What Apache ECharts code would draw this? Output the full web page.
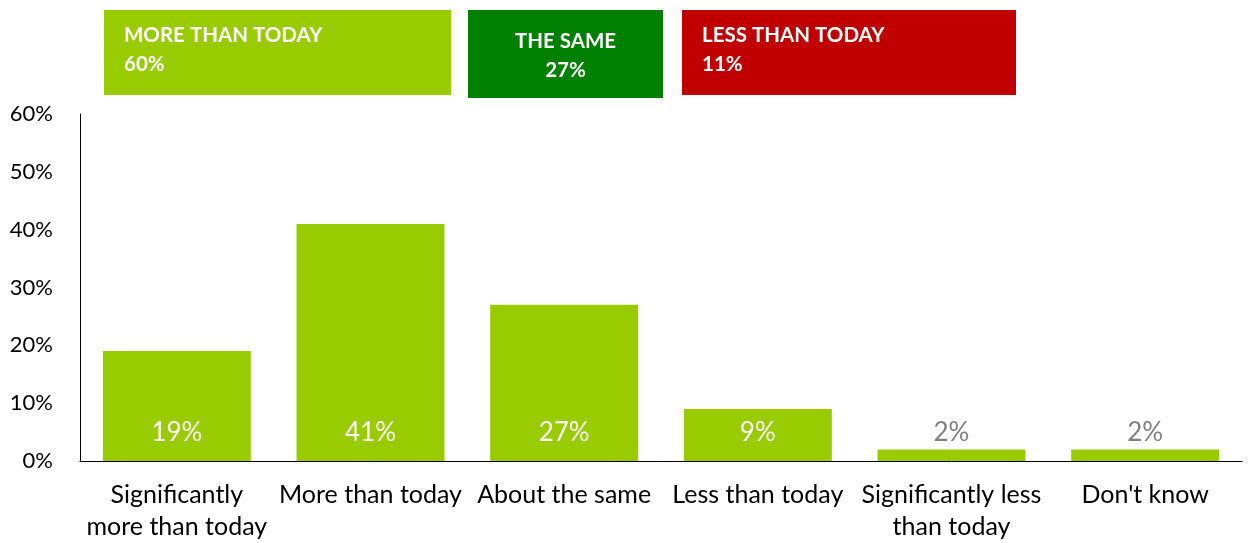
<!DOCTYPE html>
<html>
<head>
<meta charset="utf-8">
<script src="https://cdn.jsdelivr.net/npm/echarts@6/dist/echarts.min.js"></script>
<style>
  html, body { margin: 0; padding: 0; background: #fff; overflow: hidden; }
  #chart { width: 1249px; height: 543px; }
</style>
</head>
<body>
<div id="chart"></div>
<script>
// Answer categories along the x axis
const categories = [
  'Significantly\nmore than today',
  'More than today',
  'About the same',
  'Less than today',
  'Significantly less\nthan today',
  "Don't know"
];
// Share of respondents per answer (%)
const values = [19, 41, 27, 9, 2, 2];
// Y-axis ticks
const yTicks = [0, 10, 20, 30, 40, 50, 60];
// Summary boxes above the plot
const summaryTitles = ['MORE THAN TODAY', 'THE SAME', 'LESS THAN TODAY'];
const summaryValues = [60, 27, 11];

const FONT = 'Lato';
const GREEN = '#99cc00';

const chart = echarts.init(document.getElementById('chart'), null, { renderer: 'canvas' });

const boxColors = [GREEN, '#008000', '#c00000'];
const boxes = [
  { x: 104, y: 10, w: 347, h: 85, align: 'left' },
  { x: 468, y: 10, w: 195, h: 88, align: 'center' },
  { x: 682, y: 10, w: 334, h: 85, align: 'left' }
];

const graphics = [];
boxes.forEach((b, i) => {
  graphics.push({
    type: 'rect', left: b.x, top: b.y,
    shape: { width: b.w, height: b.h },
    style: { fill: boxColors[i] }
  });
  const tx = b.align === 'left' ? b.x + 20 : b.x + b.w / 2;
  const off = b.align === 'left' ? 0 : 6;
  graphics.push({
    type: 'text', x: tx, y: 35 + off,
    style: {
      text: summaryTitles[i], fill: '#fff', font: 'bold 20.5px ' + FONT,
      align: b.align, verticalAlign: 'middle'
    }
  });
  graphics.push({
    type: 'text', x: tx, y: 64 + off,
    style: {
      text: summaryValues[i] + '%', fill: '#fff', font: 'bold 20.5px ' + FONT,
      align: b.align, verticalAlign: 'middle'
    }
  });
});

chart.setOption({
  animation: false,
  textStyle: { fontFamily: FONT },
  grid: { left: 80, width: 1162, top: 114, height: 350, containLabel: false },
  xAxis: {
    type: 'category',
    data: categories,
    axisLine: { show: true, lineStyle: { color: '#000', width: 1 } },
    axisTick: { show: false },
    axisLabel: {
      color: '#000', fontSize: 25, fontFamily: FONT,
      margin: 18, lineHeight: 32, interval: 0
    }
  },
  yAxis: {
    type: 'value',
    min: yTicks[0], max: yTicks[yTicks.length - 1], interval: 10,
    axisLine: { show: true, lineStyle: { color: '#000', width: 1 } },
    axisTick: { show: false },
    splitLine: { show: false },
    axisLabel: {
      color: '#000', fontSize: 22, fontFamily: FONT, margin: 27,
      formatter: v => v + '%'
    }
  },
  series: [{
    type: 'bar',
    barCategoryGap: '23.6%',
    data: values.map(v => ({
      value: v,
      label: { color: v >= 5 ? '#fff' : '#808080' }
    })),
    itemStyle: { color: GREEN },
    label: {
      show: true, position: 'insideBottom', distance: 15,
      fontSize: 26, fontFamily: FONT,
      formatter: p => p.value + '%'
    }
  }],
  graphic: graphics
});
</script>
</body>
</html>
